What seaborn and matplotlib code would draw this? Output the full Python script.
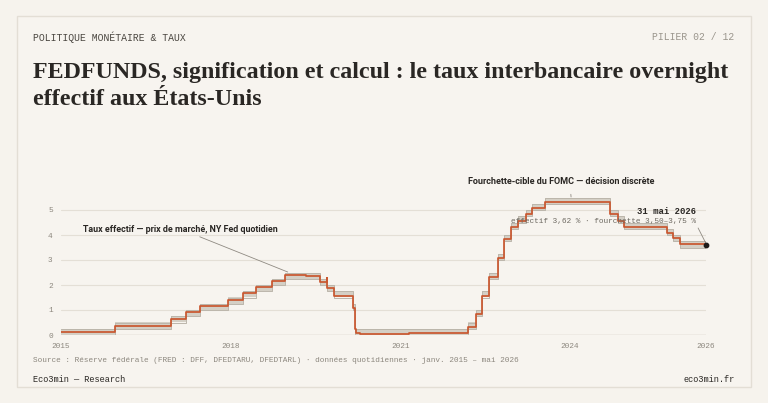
import pandas as pd
import matplotlib.pyplot as plt
from matplotlib.patches import Rectangle
import seaborn as sns

# Fourchette-cible du FOMC (dates de décision, bornes basse / haute)
fomc_dates = ["2015-01-01", "2015-12-17", "2016-12-15", "2017-03-16", "2017-06-15",
              "2017-12-14", "2018-03-22", "2018-06-14", "2018-09-27", "2018-12-20",
              "2019-08-01", "2019-09-19", "2019-10-31", "2020-03-04", "2020-03-16",
              "2022-03-17", "2022-05-05", "2022-06-16", "2022-07-28", "2022-09-22",
              "2022-11-03", "2022-12-15", "2023-02-02", "2023-03-23", "2023-05-04",
              "2023-07-27", "2024-09-19", "2024-11-08", "2024-12-19", "2025-09-18",
              "2025-10-30", "2025-12-11", "2026-05-31"]
fomc_low = [0.00, 0.25, 0.50, 0.75, 1.00, 1.25, 1.50, 1.75, 2.00, 2.25,
            2.00, 1.75, 1.50, 1.00, 0.00, 0.25, 0.75, 1.50, 2.25, 3.00,
            3.75, 4.25, 4.50, 4.75, 5.00, 5.25, 4.75, 4.50, 4.25, 4.00,
            3.75, 3.50, 3.50]
fomc_high = [0.25, 0.50, 0.75, 1.00, 1.25, 1.50, 1.75, 2.00, 2.25, 2.50,
             2.25, 2.00, 1.75, 1.25, 0.25, 0.50, 1.00, 1.75, 2.50, 3.25,
             4.00, 4.50, 4.75, 5.00, 5.25, 5.50, 5.00, 4.75, 4.50, 4.25,
             4.00, 3.75, 3.75]

# Taux effectif (points de changement)
effr_dates = ["2015-01-01", "2015-12-17", "2016-12-15", "2017-03-16", "2017-06-15",
              "2017-12-14", "2018-03-22", "2018-06-14", "2018-09-27", "2018-12-20",
              "2019-05-01", "2019-08-01", "2019-09-17", "2019-09-19", "2019-10-31",
              "2020-03-04", "2020-03-16", "2020-03-20", "2020-04-15", "2021-03-01",
              "2021-06-17", "2022-03-17", "2022-05-05", "2022-06-16", "2022-07-28",
              "2022-09-22", "2022-11-03", "2022-12-15", "2023-02-02", "2023-03-23",
              "2023-05-04", "2023-07-27", "2024-09-19", "2024-11-08", "2024-12-19",
              "2025-09-18", "2025-10-30", "2025-12-11", "2026-05-31"]
effr_vals = [0.12, 0.37, 0.66, 0.91, 1.16, 1.42, 1.68, 1.91, 2.18, 2.40,
             2.38, 2.13, 2.30, 1.90, 1.55, 1.10, 0.25, 0.10, 0.05, 0.07,
             0.08, 0.33, 0.83, 1.58, 2.33, 3.08, 3.83, 4.33, 4.58, 4.83,
             5.08, 5.33, 4.83, 4.58, 4.33, 4.08, 3.87, 3.64, 3.62]

tick_dates = ["2015-01-01", "2018-01-01", "2021-01-01", "2024-01-01", "2026-05-31"]
tick_labels = ["2015", "2018", "2021", "2024", "2026"]

BG = "#f6f3ed"
INK = "#2a2724"
GREY = "#8c877e"
RED = "#c9572f"
MONO = "Liberation Mono"

df_band = pd.DataFrame({"date": pd.to_datetime(fomc_dates), "low": fomc_low, "high": fomc_high})
df_eff = pd.DataFrame({"date": pd.to_datetime(effr_dates), "taux": effr_vals})

sns.set_theme(style="white")
plt.rcParams["font.family"] = ["Roboto", "DejaVu Sans"]

fig = plt.figure(figsize=(7.68, 4.03), dpi=100, facecolor=BG)
W, H = 768, 403

def fx(px):
    return px / W

def fy(py):
    return 1 - py / H

def fit(txt, width_px):
    # ajuste la taille de police pour retrouver la largeur du modèle
    fig.canvas.draw()
    w = txt.get_window_extent().width
    txt.set_fontsize(txt.get_fontsize() * width_px / w)

# carte
fig.add_artist(Rectangle((fx(17), fy(387)), fx(751 - 17), (387 - 16) / H,
                         transform=fig.transFigure, facecolor="#f7f4ef",
                         edgecolor="#e3ded5", linewidth=1, zorder=0))

ax = fig.add_axes([fx(61), fy(335), fx(706 - 61), 5.6 * 25 / H])
ax.set_facecolor("none")

ax.fill_between(df_band["date"], df_band["low"], df_band["high"], step="post",
                color="#d4cfc5", linewidth=0, zorder=1)
sns.lineplot(data=df_band, x="date", y="low", drawstyle="steps-post", color="#bcb6ab",
             linewidth=0.7, ax=ax, zorder=2)
sns.lineplot(data=df_band, x="date", y="high", drawstyle="steps-post", color="#bcb6ab",
             linewidth=0.7, ax=ax, zorder=2)
sns.lineplot(data=df_eff, x="date", y="taux", drawstyle="steps-post", color=RED,
             linewidth=1.25, ax=ax, zorder=3)

last = df_eff.iloc[-1]
ax.scatter([last["date"]], [last["taux"]], s=10, color="#1d1b19", zorder=5, clip_on=False)

ax.set_xlim(pd.Timestamp("2015-01-01"), pd.Timestamp("2026-05-31"))
ax.set_ylim(0, 5.6)
ax.set_yticks([0, 1, 2, 3, 4, 5])
ax.set_xticks(pd.to_datetime(tick_dates))
ax.set_xticklabels(tick_labels)
ax.grid(axis="y", color="#e4dfd6", linewidth=0.8)
ax.axhline(0, color="#cfc9be", linewidth=1, zorder=0.5)
for s in ax.spines.values():
    s.set_visible(False)
ax.tick_params(length=0, labelsize=5.6, labelcolor=GREY, pad=6)
for lab in ax.get_xticklabels() + ax.get_yticklabels():
    lab.set_family(MONO)
ax.set_xlabel("")
ax.set_ylabel("")

# annotations
a1 = ax.annotate("Taux effectif — prix de marché, NY Fed quotidien",
                 xy=(pd.Timestamp("2019-01-05"), 2.52), xytext=(pd.Timestamp("2015-05-20"), 4.24),
                 fontsize=7, fontweight="bold", color=INK, ha="left", va="center",
                 arrowprops=dict(arrowstyle="-", color="#8f8a82", linewidth=0.6,
                                 shrinkA=0, shrinkB=0, relpos=(0.56, 0)),
                 annotation_clip=False)
a2 = ax.annotate("Fourchette-cible du FOMC — décision discrète",
                 xy=(pd.Timestamp("2024-01-10"), 5.52), xytext=(pd.Timestamp("2023-11-05"), 6.16),
                 fontsize=7, fontweight="bold", color=INK, ha="center", va="center",
                 arrowprops=dict(arrowstyle="-", color="#8f8a82", linewidth=0.6,
                                 shrinkA=4, shrinkB=0, relpos=(0.55, 0)),
                 annotation_clip=False)
fit(a1, 195)
fit(a2, 188)
ax.text(pd.Timestamp("2026-03-25"), 4.92, "31 mai 2026", family=MONO, fontsize=6.4,
        fontweight="bold", color=INK, ha="right", va="center")
ax.text(pd.Timestamp("2026-03-25"), 4.52, "effectif 3,62 % · fourchette 3,50–3,75 %",
        family=MONO, fontsize=5.6, color="#6d6961", ha="right", va="center")
ax.plot([pd.Timestamp("2026-04-10"), pd.Timestamp("2026-05-31")], [4.28, 3.66],
        color="#8f8a82", linewidth=0.6, clip_on=False)

# en-tête
fig.text(fx(33), fy(37), "POLITIQUE MONÉTAIRE & TAUX", family=MONO, fontsize=7,
         color="#4a4640", ha="left", va="center")
fig.text(fx(734), fy(37), "PILIER 02 / 12", family=MONO, fontsize=7,
         color="#9a958c", ha="right", va="center")

title = fig.text(fx(33), fy(78), "FEDFUNDS, signification et calcul : le taux interbancaire overnight",
                 family="Liberation Serif", fontweight="bold", fontsize=18, color=INK,
                 ha="left", va="baseline")
fit(title, 695)
fig.text(fx(33), fy(105), "effectif aux États-Unis", family="Liberation Serif",
         fontweight="bold", fontsize=title.get_fontsize(), color=INK, ha="left", va="baseline")

# pied
fig.text(fx(33), fy(360), "Source : Réserve fédérale (FRED : DFF, DFEDTARU, DFEDTARL) · données "
         "quotidiennes · janv. 2015 – mai 2026", family=MONO, fontsize=5.6,
         color=GREY, ha="left", va="center")
fig.text(fx(33), fy(379), "Eco3min — Research", family=MONO, fontsize=6.2,
         color=INK, ha="left", va="center")
fig.text(fx(735), fy(379), "eco3min.fr", family=MONO, fontsize=6.2,
         color=INK, ha="right", va="center")

fig.savefig("out.png", dpi=100, facecolor=BG)
